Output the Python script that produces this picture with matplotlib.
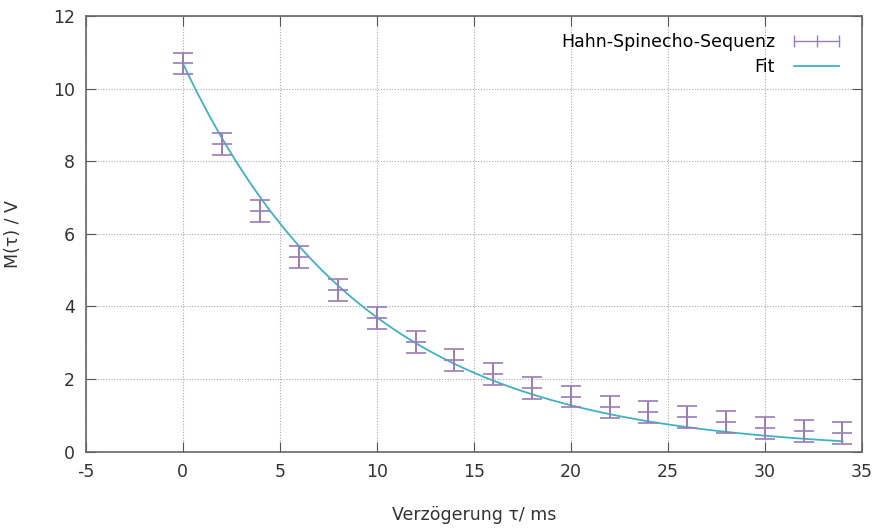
import numpy as np
import matplotlib
matplotlib.use("Agg")
import matplotlib.pyplot as plt
from matplotlib.lines import Line2D

# measured echo amplitudes
tau = [0, 2, 4, 6, 8, 10, 12, 14, 16, 18, 20, 22, 24, 26, 28, 30, 32, 34]
amp = [10.69, 8.47, 6.62, 5.37, 4.46, 3.69, 3.03, 2.53, 2.15, 1.76, 1.52,
       1.24, 1.10, 0.96, 0.83, 0.66, 0.58, 0.52]
amp_err = [0.3] * len(tau)

# fit parameters M(t) = M0 * exp(-t / T2)
M0 = 10.7
T2 = 9.42

x_ticks = [-5, 0, 5, 10, 15, 20, 25, 30, 35]
y_ticks = [0, 2, 4, 6, 8, 10, 12]

purple = '#9a7cb6'
cyan = '#3fb2c6'

plt.rcParams['font.family'] = ['DejaVu Sans']
plt.rcParams['axes.unicode_minus'] = False
fig = plt.figure(figsize=(8.75, 5.29), dpi=100)
ax = fig.add_axes([0.098, 0.146, 0.887, 0.824])

t_fit = np.linspace(0, 34, 300)
fit_line, = ax.plot(t_fit, M0 * np.exp(-t_fit / T2), color=cyan, lw=1.3,
                    label='Fit', zorder=2)
ax.errorbar(tau, amp, yerr=amp_err, fmt='+', color=purple, ms=14, mew=1.2,
            elinewidth=1.2, capsize=7, capthick=1.2, zorder=3)

ax.set_xlim(-5, 35)
ax.set_ylim(0, 12)
ax.set_xticks(x_ticks)
ax.set_yticks(y_ticks)
ax.grid(True, color='#aaaaaa', linestyle=(0, (1, 1.5)), linewidth=0.8)
ax.tick_params(direction='in', length=7, top=True, right=True,
               labelsize=12.5, colors='#555555', labelcolor='#333333', pad=8)
for s in ax.spines.values():
    s.set_color('#666666')
    s.set_linewidth(1.2)

ax.set_xlabel('Verzögerung τ/ ms', fontsize=12.5, color='#333333', labelpad=18)
ax.set_ylabel('M(τ) / V', fontsize=12.5, color='#333333', labelpad=22)

# gnuplot-style horizontal errorbar key sample
err_key = Line2D([], [], color=purple, lw=1.0, marker='|', ms=9, mew=1.0)
ax.legend([err_key, fit_line], ['Hahn-Spinecho-Sequenz', 'Fit'],
          loc='upper right', frameon=False, markerfirst=False, numpoints=3,
          fontsize=12.5, handlelength=3.2, borderaxespad=0.6, labelspacing=0.4)

fig.savefig('out.png', dpi=100)
